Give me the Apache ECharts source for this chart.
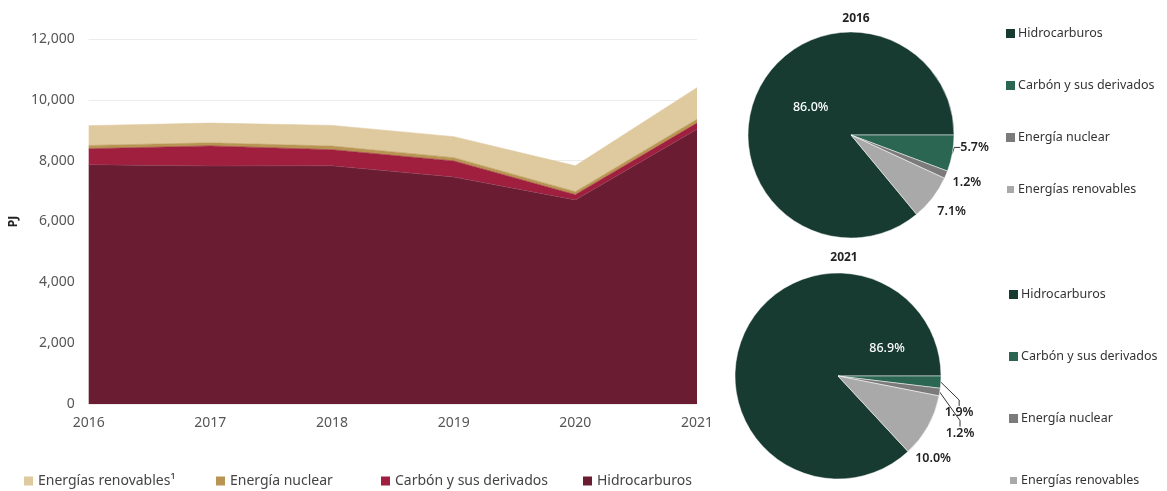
<!DOCTYPE html>
<html><head><meta charset="utf-8">
<script src="https://cdn.jsdelivr.net/npm/echarts@6/dist/echarts.min.js"></script>
<style>html,body{margin:0;padding:0;background:#fff}#c{width:1167px;height:491px}</style>
</head><body><div id="c"></div>
<script>
const years = ['2016','2017','2018','2019','2020','2021'];
const hidrocarburos = [7869, 7825, 7830, 7460, 6710, 9035];
const carbon = [522, 660, 530, 530, 170, 200];
const nuclear = [110, 100, 120, 110, 100, 125];
const renovables = [650, 650, 680, 690, 850, 1040];

const pieNames = ['Hidrocarburos','Carbón y sus derivados','Energía nuclear','Energías renovables'];
const pie2016 = [86.0, 5.7, 1.2, 7.1];
const pie2021 = [86.9, 1.9, 1.2, 10.0];

const areaNames = ['Hidrocarburos','Carbón y sus derivados','Energía nuclear','Energías renovables¹'];
const areaColors = ['#691c32','#a01f3f','#b99554','#dfca9f'];
const pieColors = ['#173a31','#2a6652','#7b7b7b','#a9a9a9'];
const FONT = 'Noto Sans';

// label nudges (styling only)
const nudge2016 = [[9,-4],[-6,-7],[-7,5],[-8,10]];
const nudge2021 = [[99,-6],[-10,30],[-8,40],[-26,29]];
const showLine2016 = [false, true, false, false];
const showLine2021 = [false, true, true, false];

const chart = echarts.init(document.getElementById('c'));
const areaData = [hidrocarburos, carbon, nuclear, renovables];

function pieSeries(vals, center, nudge, showLine) {
  const total = vals.reduce((a,b)=>a+b,0);
  const start = 360 * vals[0] / total;
  return {
    type: 'pie', center: center, radius: 103, startAngle: start, clockwise: true,
    avoidLabelOverlap: false,
    itemStyle: { borderColor: '#fff', borderWidth: 0.5 },
    label: { show: true, position: 'outside', formatter: p => p.value.toFixed(1) + '%',
      fontFamily: FONT, fontSize: 12.5, color: '#222', fontWeight: 600, distanceToLabelLine: 2 },
    labelLine: { show: true, length: 6, length2: 6, lineStyle: { color: '#333', width: 1 } },
    labelLayout: p => {
      const r = p.labelRect, n = nudge[p.dataIndex];
      const ax = p.align === 'right' ? r.x + r.width : p.align === 'center' ? r.x + r.width / 2 : r.x;
      const ay = p.verticalAlign === 'top' ? r.y : p.verticalAlign === 'bottom' ? r.y + r.height : r.y + r.height / 2;
      return { x: ax + n[0], y: ay + n[1] };
    },
    emphasis: { disabled: true },
    data: vals.map((v, i) => ({
      name: pieNames[i], value: v, itemStyle: { color: pieColors[i] },
      labelLine: { show: showLine[i] },
      label: i === 0 ? { position: 'inside', color: '#fff', fontSize: 12.5, fontWeight: 500 } : undefined
    }))
  };
}

const legendItems = () => pieNames.map((n, i) => ({ name: n, itemStyle: { color: pieColors[i] } }));
const bottomLeft = [24, 216, 381, 583];

chart.setOption({
  animation: false,
  textStyle: { fontFamily: FONT },
  title: [
    { text: '2016', left: 851, top: 8, textAlign: 'center', textStyle: { fontSize: 12, fontWeight: 'bold', color: '#222', fontFamily: FONT } },
    { text: '2021', left: 839, top: 247, textAlign: 'center', textStyle: { fontSize: 12, fontWeight: 'bold', color: '#222', fontFamily: FONT } }
  ],
  grid: { left: 87, right: 470, top: 39, bottom: 87, containLabel: false },
  legend: [3,2,1,0].map((i, k) => ({
      bottom: 3, left: bottomLeft[k], padding: 0, itemWidth: 9, itemHeight: 9, icon: 'rect',
      textStyle: { fontSize: 14, color: '#444', fontFamily: FONT },
      data: [{ name: areaNames[i], itemStyle: { color: areaColors[i] } }] })).concat([
    { orient: 'vertical', left: 1005, top: 27, padding: 0, itemWidth: 9, itemHeight: 9, itemGap: 39, icon: 'rect',
      textStyle: { fontSize: 12.5, lineHeight: 12, color: '#333', fontFamily: FONT, padding: [0,0,0,-2] },
      data: legendItems() },
    { orient: 'vertical', left: 1008, top: 288, padding: 0, itemWidth: 9, itemHeight: 9, itemGap: 49, icon: 'rect',
      textStyle: { fontSize: 12.5, lineHeight: 12, color: '#333', fontFamily: FONT, padding: [0,0,0,-2] },
      data: legendItems() }
  ]),
  xAxis: { type: 'category', data: years, boundaryGap: false,
    axisLine: { show: false }, axisTick: { show: false },
    axisLabel: { fontSize: 14, color: '#555', margin: 12 } },
  yAxis: { type: 'value', min: 0, max: 12000, interval: 2000,
    name: 'PJ', nameLocation: 'middle', nameGap: 66, nameRotate: 90,
    nameTextStyle: { fontSize: 12, fontWeight: 'bold', color: '#222' },
    axisLine: { show: false }, axisTick: { show: false },
    axisLabel: { fontSize: 14, color: '#555', margin: 14 },
    splitLine: { lineStyle: { color: '#ececec' } } },
  series: areaData.map((d, i) => ({
    type: 'line', name: areaNames[i], stack: 'total', data: d, showSymbol: false,
    lineStyle: { width: 0.6, color: i === 0 ? '#8a3a52' : areaColors[i] },
    areaStyle: { color: areaColors[i], opacity: 1 }, emphasis: { disabled: true }
  })).concat([
    pieSeries(pie2016, [851, 135], nudge2016, showLine2016),
    pieSeries(pie2021, [838, 376], nudge2021, showLine2021)
  ])
});
</script></body></html>
